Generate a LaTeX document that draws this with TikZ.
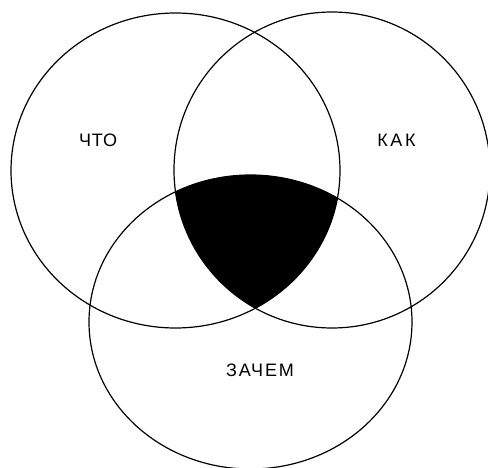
\documentclass[tikz,border=0pt]{standalone}
\usepackage{fontspec}
\setmainfont{Liberation Sans}
\begin{document}
\begin{tikzpicture}[x=1pt,y=-1pt,
  ring/.style={draw=black, line width=1.2pt},
  lbl/.style={font=\fontsize{18}{20}\selectfont, inner sep=0pt}]
\useasboundingbox (0,0) rectangle (488,468);
\begin{scope}
  \clip (175.5,170.5) ellipse [x radius=164.5, y radius=157.5];
  \clip (332,170) circle [radius=158];
  \fill[black] (250.5,322) ellipse [x radius=161.5, y radius=147];
\end{scope}
\draw[ring] (175.5,170.5) ellipse [x radius=164.5, y radius=157.5];
\draw[ring] (332,170) circle [radius=158];
\draw[ring] (250.5,322) ellipse [x radius=161.5, y radius=147];
\node[lbl] (what) at (98,140) {\addfontfeature{LetterSpace=5}ЧТО};
\node[lbl] (how) at (396.5,140) {\addfontfeature{LetterSpace=14}КАК};
\node[lbl] (why) at (260,370) {\addfontfeature{LetterSpace=10}ЗАЧЕМ};
\end{tikzpicture}
\end{document}
